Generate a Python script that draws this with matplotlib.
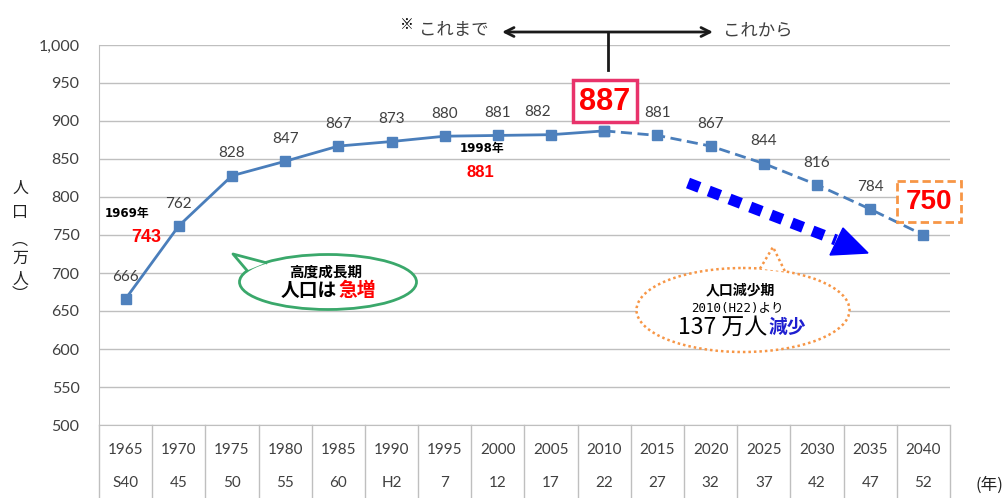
import numpy as np
import matplotlib
matplotlib.use("Agg")
import matplotlib.pyplot as plt
from matplotlib.patches import Ellipse, Polygon, Rectangle
import matplotlib.transforms as mtransforms

plt.rcParams['font.family'] = ['Lato', 'Noto Sans CJK JP', 'DejaVu Sans']

# data
years = [1965, 1970, 1975, 1980, 1985, 1990, 1995, 2000, 2005, 2010,
         2015, 2020, 2025, 2030, 2035, 2040]
era = ['S40', '45', '50', '55', '60', 'H2', '7', '12', '17', '22',
       '27', '32', '37', '42', '47', '52']
population = [666, 762, 828, 847, 867, 873, 880, 881, 882, 887,
              881, 867, 844, 816, 784, 750]
peak = years.index(2010)
boxed = [peak, len(years) - 1]   # values shown in the coloured boxes

blue = '#4A7EBB'
mblue = '#4F81BD'
grey_txt = '#404040'
grid_c = '#BFBFBF'

fig = plt.figure(figsize=(10.04, 4.98), dpi=100)
ax = fig.add_axes([99/1004, 1 - 425/498, (950 - 99)/1004, 380/498])

x = np.arange(len(years))
ax.plot(x[:peak + 1], population[:peak + 1], color=blue, lw=2,
        marker='s', ms=6.5, mfc=mblue, mec=mblue, zorder=3)
ax.plot(x[peak:], population[peak:], color=blue, lw=2, ls=(0, (4, 2)),
        marker='s', ms=6.5, mfc=mblue, mec=mblue, zorder=3)

for i, v in enumerate(population):
    if i in boxed:
        continue
    dx = -10 if years[i] == 2005 else 0
    ax.annotate(str(v), (i, v), xytext=(dx, 16), textcoords='offset points',
                ha='center', va='center', fontsize=11, color=grey_txt)

ax.set_xlim(-0.5, len(years) - 0.5)
ax.set_ylim(500, 1000)
ax.set_yticks(np.arange(500, 1001, 50))
ax.set_yticklabels([f'{v:,}' for v in range(500, 1001, 50)])
ax.tick_params(axis='y', length=0, pad=14, labelsize=11.5, labelcolor=grey_txt)
ax.set_xticks([])
ax.grid(axis='y', color=grid_c, lw=1)
ax.set_axisbelow(True)
for s in ['top', 'right']:
    ax.spines[s].set_visible(False)
for s in ['left', 'bottom']:
    ax.spines[s].set_color(grid_c)

# table under the axis
trans = mtransforms.blended_transform_factory(ax.transData, ax.transAxes)
for i in range(len(years) + 1):
    ax.plot([i - 0.5, i - 0.5], [0, -0.192], color=grid_c, lw=1,
            transform=trans, clip_on=False)
for i in range(len(years)):
    ax.text(i, -0.066, str(years[i]), transform=trans, ha='center', va='center',
            fontsize=11, color=grey_txt)
    ax.text(i, -0.153, era[i], transform=trans, ha='center', va='center',
            fontsize=11, color=grey_txt)

# overlay in pixel coordinates for annotations
ov = fig.add_axes([0, 0, 1, 1], zorder=5)
ov.set_xlim(0, 1004)
ov.set_ylim(498, 0)
ov.axis('off')
ov.patch.set_alpha(0)

ov.text(1003, 485, '(年)', ha='right', va='center', fontsize=12, color='#222222',
        family=['Noto Sans CJK JP'])

# y label, vertical writing
for ch, py in zip(['人', '口', '︵', '万', '人', '︶'], [188, 212, 240, 258, 279, 294]):
    ov.text(20, py, ch, ha='center', va='center', fontsize=11.5, color='#222222',
            family=['Noto Sans CJK JP'])

# top annotation
ov.text(407, 25, '※', ha='center', va='center', fontsize=10, color='black',
        family=['Noto Sans CJK JP'])
ov.text(489, 30, 'これまで', ha='right', va='center', fontsize=12.5, color=grey_txt,
        family=['Noto Sans CJK JP'])
ov.text(723, 30, 'これから', ha='left', va='center', fontsize=12.5, color=grey_txt,
        family=['Noto Sans CJK JP'])
ov.annotate('', xy=(502, 32), xytext=(713, 32),
            arrowprops=dict(arrowstyle='<->', lw=2, color='#1a1a1a',
                            mutation_scale=16, shrinkA=0, shrinkB=0))
ov.plot([608, 608], [32, 70], color='#1a1a1a', lw=2)

# 887 box
ov.add_patch(Rectangle((573, 80), 64, 42, fc='white', ec='#E8336B', lw=2.5))
ov.text(605, 102, str(population[peak]), ha='center', va='center', fontsize=22,
        fontweight='bold', color='#FF0000', family=['Liberation Sans'])

# 750 box
ov.add_patch(Rectangle((897, 181), 64, 41, fc='white', ec='#F79646', lw=2,
                       ls=(0, (3, 1.5))))
ov.text(929, 202, str(population[-1]), ha='center', va='center', fontsize=20,
        fontweight='bold', color='#FF0000', family=['Liberation Sans'])

# 1969 / 1998 notes
ov.text(127, 213, '1969年', ha='center', va='center', fontsize=8.5, fontweight='bold',
        color='black', family=['DejaVu Sans', 'Noto Sans CJK JP'])
ov.text(146, 237, '743', ha='center', va='center', fontsize=13, fontweight='bold',
        color='#FF0000', family=['Liberation Sans'])
ov.text(482, 148, '1998年', ha='center', va='center', fontsize=8.5, fontweight='bold',
        color='black', family=['DejaVu Sans', 'Noto Sans CJK JP'])
ov.text(480, 172, '881', ha='center', va='center', fontsize=12, fontweight='bold',
        color='#FF0000', family=['Liberation Sans'])

# green bubble
green = '#3AA86B'
ov.add_patch(Ellipse((328, 282), 177, 55, fc='white', ec=green, lw=2, zorder=2))
ov.add_patch(Polygon([(266, 262.7), (233, 254), (247, 270.5)], closed=True,
                     fc='white', ec='none', zorder=3))
ov.plot([266, 233, 247], [262.7, 254, 270.5], color=green, lw=2, zorder=4)
ov.text(326, 272, '高度成長期', ha='center', va='center', fontsize=10.5, fontweight='bold',
        color='black', family=['Noto Sans CJK JP'], zorder=5)
ov.text(337, 290, '人口は', ha='right', va='center', fontsize=13.5, fontweight='bold',
        color='black', family=['Noto Sans CJK JP'], zorder=5)
ov.text(338, 290, '急増', ha='left', va='center', fontsize=13.5, fontweight='bold',
        color='#FF0000', family=['Noto Sans CJK JP'], zorder=5)

# orange dotted bubble
orange = '#F79646'
ov.add_patch(Ellipse((743, 310), 213, 84, fc='white', ec=orange, lw=1.8,
                     ls=(0, (1, 1.2)), zorder=2))
ov.add_patch(Polygon([(760, 268.7), (773, 247), (785, 271.5)], closed=True,
                     fc='white', ec='none', zorder=3))
ov.plot([760, 773, 785], [268.7, 247, 271.5], color=orange, lw=1.8,
        ls=(0, (1, 1.2)), zorder=4)
ov.text(740, 290, '人口減少期', ha='center', va='center', fontsize=10, fontweight='bold',
        color='black', family=['Noto Sans CJK JP'], zorder=5)
ov.text(737, 308, '2010(H22)より', ha='center', va='center', fontsize=9,
        color='black', family=['DejaVu Sans Mono', 'Noto Sans CJK JP'], zorder=5)
ov.text(767, 327, '137 万人', ha='right', va='center', fontsize=16.5,
        color='black', family=['Noto Sans CJK JP'], zorder=5)
ov.text(768, 327, '減少', ha='left', va='center', fontsize=13.5, fontweight='bold',
        color='#1F1FD0', family=['Noto Sans CJK JP'], zorder=5)

# big blue dotted arrow
ov.plot([688, 836], [183, 240], color='#0000FF', lw=8, ls=(0, (1.1, 0.9)),
        solid_capstyle='butt', dash_capstyle='butt')
ov.add_patch(Polygon([(843, 228), (868, 253), (830, 255)], closed=True,
                     fc='#0000FF', ec='#0000FF'))

fig.savefig('out.png', dpi=100)
